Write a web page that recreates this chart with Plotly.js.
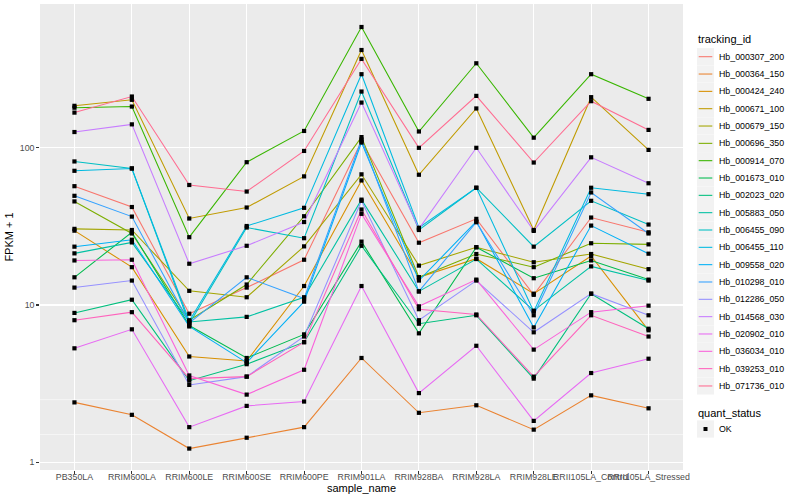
<!DOCTYPE html>
<html><head><meta charset="utf-8">
<script src="https://cdn.plot.ly/plotly-3.0.1.min.js"></script>
<style>html,body{margin:0;padding:0;background:#fff}#chart{width:800px;height:500px}</style>
</head><body><div id="chart"></div>
<script>
const categories = ["PB350LA","RRIM600LA","RRIM600LE","RRIM600SE","RRIM600PE","RRIM901LA","RRIM928BA","RRIM928LA","RRIM928LE","RRII105LA_Control","RRII105LA_Stressed"];

const Hb_000307_200 = [57, 42, 8.8, 12.9, 19.4, 110, 24.9, 35.3, 11.6, 36, 29];
const Hb_000364_150 = [2.4, 2.0, 1.22, 1.43, 1.67, 4.6, 2.06, 2.3, 1.61, 2.66, 2.2];
const Hb_000424_240 = [29.7, 17.4, 4.7, 4.4, 13.2, 62, 15, 19.7, 11.8, 20.5, 6.9];
const Hb_000671_100 = [185, 202, 35.5, 41.7, 65.8, 419, 67.4, 178, 30, 210, 97];
const Hb_000679_150 = [30.5, 30, 12.3, 11.2, 23.6, 67.8, 17.8, 23.3, 18.7, 21.1, 16.9];
const Hb_000696_350 = [45.6, 28.5, 8.0, 13.5, 36.7, 117, 15, 21.1, 17.4, 24.7, 24.3];
const Hb_000914_070 = [180, 183, 27, 81, 128, 587, 127, 345, 116, 294, 205];
const Hb_001673_010 = [15, 29, 7.4, 4.6, 6.5, 25.3, 6.6, 23.3, 14.8, 19.2, 14.5];
const Hb_002023_020 = [8.9, 10.8, 3.3, 4.2, 5.8, 23.8, 7.6, 8.6, 3.4, 11.8, 7.06];
const Hb_005883_050 = [21.3, 25, 7.8, 8.4, 11.2, 46.8, 12.2, 19.6, 9.2, 17.6, 14.3];
const Hb_006455_090 = [81.9, 73.9, 7.6, 31.1, 26.6, 228, 30, 55.7, 23.5, 46, 32.5];
const Hb_006455_110 = [71.4, 73.9, 7.9, 31.8, 41.5, 294, 31, 55.7, 9.1, 55.7, 50.7];
const Hb_009558_020 = [23.5, 26, 7.3, 4.3, 10.5, 108, 14.3, 34, 7.2, 32, 21.2];
const Hb_010298_010 = [49.5, 36.5, 7.7, 15, 11, 113, 12.2, 33.6, 8.6, 52, 28.5];
const Hb_012286_050 = [12.9, 14.3, 3.1, 3.5, 6.3, 46, 8.0, 14.3, 6.7, 11.8, 8.6];
const Hb_014568_030 = [126, 141, 18.3, 23.8, 33.7, 194, 30.5, 100, 29.6, 87, 59.5];
const Hb_020902_010 = [5.3, 7.0, 1.67, 2.28, 2.43, 13.2, 2.75, 5.5, 1.83, 3.69, 4.55];
const Hb_036034_010 = [19.2, 19.4, 3.56, 2.69, 3.87, 38, 9.8, 14.5, 5.2, 9.0, 9.9];
const Hb_039253_010 = [8.0, 9.0, 3.4, 3.5, 5.8, 40.5, 9.4, 8.7, 3.5, 8.6, 6.3];
const Hb_071736_010 = [167.5, 212, 58, 52.7, 95.5, 368, 100, 214, 80.6, 198, 130];

const seriesNames = ["Hb_000307_200","Hb_000364_150","Hb_000424_240","Hb_000671_100","Hb_000679_150","Hb_000696_350","Hb_000914_070","Hb_001673_010","Hb_002023_020","Hb_005883_050","Hb_006455_090","Hb_006455_110","Hb_009558_020","Hb_010298_010","Hb_012286_050","Hb_014568_030","Hb_020902_010","Hb_036034_010","Hb_039253_010","Hb_071736_010"];
const seriesValues = [Hb_000307_200,Hb_000364_150,Hb_000424_240,Hb_000671_100,Hb_000679_150,Hb_000696_350,Hb_000914_070,Hb_001673_010,Hb_002023_020,Hb_005883_050,Hb_006455_090,Hb_006455_110,Hb_009558_020,Hb_010298_010,Hb_012286_050,Hb_014568_030,Hb_020902_010,Hb_036034_010,Hb_039253_010,Hb_071736_010];
const seriesColors = ["#F8766D","#EA8331","#D89000","#C09B00","#A3A500","#7CAE00","#39B600","#00BB4E","#00BF7D","#00C1A3","#00BFC4","#00BAE0","#00B0F6","#35A2FF","#9590FF","#C77CFF","#E76BF3","#FA62DB","#FF62BC","#FF6C91"];
const statusName = "OK";

const FONT = "Liberation Sans, Arial, Helvetica, sans-serif";
const M = {l:40, r:117, t:4, b:30};
const W = 800 - M.l - M.r, H = 500 - M.t - M.b;
const px = x => (x - M.l) / W;
const py = y => 1 - (y - M.t) / H;

const traces = [];
seriesValues.forEach((vals, i) => {
  traces.push({type:'scatter', mode:'lines', x:categories, y:vals, name:seriesNames[i],
    line:{color:seriesColors[i], width:1.07}, showlegend:false, hoverinfo:'skip'});
});
seriesValues.forEach((vals, i) => {
  traces.push({type:'scatter', mode:'markers', x:categories, y:vals, name:seriesNames[i],
    marker:{symbol:'square', size:4.2, color:'#000000', line:{width:0}}, showlegend:false, hoverinfo:'skip'});
});

const shapes = [];
const annotations = [];
// minor gridlines (log midpoints)
[0.5, 1.5, 2.5].forEach(v => shapes.push({type:'line', xref:'paper', yref:'y', x0:0, x1:1, y0:v, y1:v,
  line:{color:'#FFFFFF', width:0.53}, layer:'below'}));

// legend: tracking_id
annotations.push({xref:'paper', yref:'paper', x:px(696), y:py(39), xanchor:'left', yanchor:'middle',
  text:'tracking_id', showarrow:false, font:{family:FONT, size:11, color:'#000'}});
seriesNames.forEach((nm, i) => {
  const yc = 56.7 + 17.33 * i;
  shapes.push({type:'rect', xref:'paper', yref:'paper', x0:px(697), x1:px(714), y0:py(yc-8.6), y1:py(yc+8.6),
    fillcolor:'#F2F2F2', line:{width:0}});
  shapes.push({type:'line', xref:'paper', yref:'paper', x0:px(698.7), x1:px(712.3), y0:py(yc), y1:py(yc),
    line:{color:seriesColors[i], width:1.07}});
  annotations.push({xref:'paper', yref:'paper', x:px(717), y:py(yc), xanchor:'left', yanchor:'middle',
    text:nm, showarrow:false, font:{family:FONT, size:8.8, color:'#000'}});
});
// legend: quant_status
annotations.push({xref:'paper', yref:'paper', x:px(696), y:py(412.5), xanchor:'left', yanchor:'middle',
  text:'quant_status', showarrow:false, font:{family:FONT, size:11, color:'#000'}});
shapes.push({type:'rect', xref:'paper', yref:'paper', x0:px(697), x1:px(714), y0:py(429-8.6), y1:py(429+8.6),
  fillcolor:'#F2F2F2', line:{width:0}});
shapes.push({type:'rect', xref:'paper', yref:'paper', x0:px(703.5), x1:px(707.5), y0:py(427), y1:py(431),
  fillcolor:'#000000', line:{width:0}});
annotations.push({xref:'paper', yref:'paper', x:px(717), y:py(429), xanchor:'left', yanchor:'middle',
  text:statusName, showarrow:false, font:{family:FONT, size:8.8, color:'#000'}});

const layout = {
  width:800, height:500, margin:M,
  paper_bgcolor:'#FFFFFF', plot_bgcolor:'#EBEBEB',
  font:{family:FONT, color:'#000000'},
  showlegend:false, hovermode:false,
  xaxis:{type:'category', categoryorder:'array', categoryarray:categories, range:[-0.6, 10.6],
    showgrid:true, gridcolor:'#FFFFFF', gridwidth:1.07, zeroline:false, showline:false,
    ticks:'outside', ticklen:2.75, tickwidth:1.07, tickcolor:'#333333', tickangle:0,
    ticklabelstandoff:-4,
    tickfont:{family:FONT, size:8.8, color:'#4D4D4D'}, automargin:false,
    title:{text:'sample_name', font:{family:FONT, size:11, color:'#000'}, standoff:0}},
  yaxis:{type:'log', range:[-0.05, 2.915], dtick:1, tickformat:'d',
    showgrid:true, gridcolor:'#FFFFFF', gridwidth:1.07, zeroline:false, showline:false,
    ticks:'outside', ticklen:2.75, tickwidth:1.07, tickcolor:'#333333',
    ticklabelstandoff:-0.5,
    tickfont:{family:FONT, size:8.8, color:'#4D4D4D'}, automargin:false,
    title:{text:'FPKM + 1', font:{family:FONT, size:11, color:'#000'}, standoff:3}},
  shapes:shapes, annotations:annotations
};

Plotly.newPlot('chart', traces, layout, {displayModeBar:false, staticPlot:true});
</script></body></html>
